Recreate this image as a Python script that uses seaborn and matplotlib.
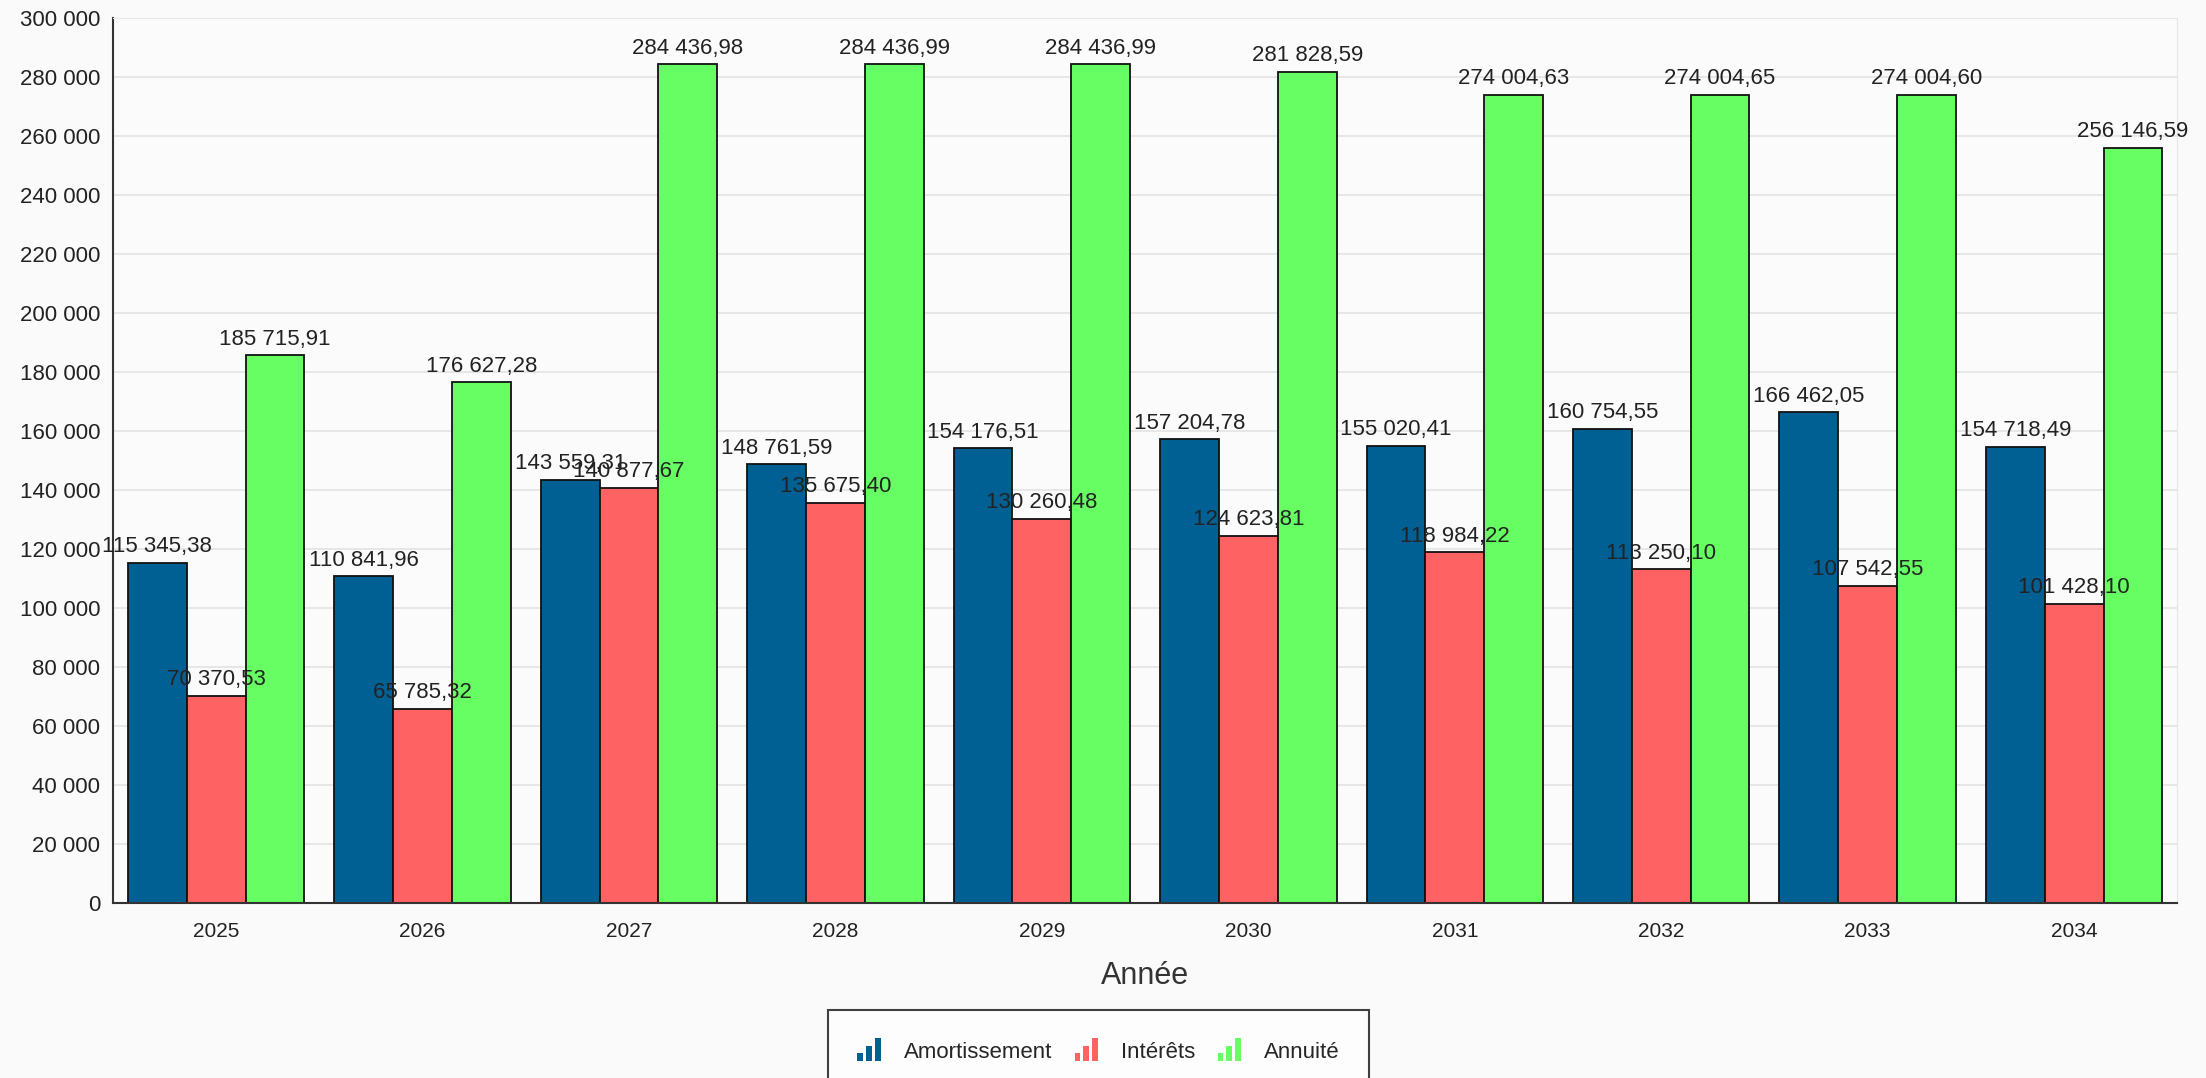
import pandas as pd
import matplotlib
matplotlib.use("Agg")
import matplotlib.pyplot as plt
import seaborn as sns
from matplotlib.patches import Patch, Rectangle
from matplotlib.legend_handler import HandlerBase
from matplotlib.ticker import FuncFormatter, MultipleLocator

years = ["2025", "2026", "2027", "2028", "2029", "2030", "2031", "2032", "2033", "2034"]
amortissement = [115345.38, 110841.96, 143559.31, 148761.59, 154176.51,
                 157204.78, 155020.41, 160754.55, 166462.05, 154718.49]
interets = [70370.53, 65785.32, 140877.67, 135675.40, 130260.48,
            124623.81, 118984.22, 113250.10, 107542.55, 101428.10]
annuite = [185715.91, 176627.28, 284436.98, 284436.99, 284436.99,
           281828.59, 274004.63, 274004.65, 274004.60, 256146.59]
series = ["Amortissement", "Intérêts", "Annuité"]
colors = ["#006094", "#fe6262", "#66fe62"]


def fr_num(v, dec=2):
    s = f"{v:,.{dec}f}"
    return s.replace(",", " ").replace(".", ",")


class BarIconHandler(HandlerBase):
    """Small three-bar icon used in the legend."""
    def create_artists(self, legend, orig_handle, xdescent, ydescent,
                       width, height, fontsize, trans):
        color = orig_handle.get_facecolor()
        w = width / 4.2
        arts = []
        for i, h in enumerate([0.35, 0.7, 1.05]):
            r = Rectangle((-xdescent + i * w * 1.5, -ydescent), w, h * height,
                          facecolor=color, edgecolor="none", transform=trans)
            arts.append(r)
        return arts


df = pd.DataFrame({
    "Année": years * 3,
    "Montant": amortissement + interets + annuite,
    "Série": [s for s in series for _ in years],
})

sns.set_style("white")
plt.rcParams["font.family"] = ["Liberation Sans", "DejaVu Sans"]

fig = plt.figure(figsize=(22.06, 10.78), dpi=100, facecolor="#fafafa")
ax = fig.add_axes([0.0512, 0.1623, 0.9358, 0.8207])
ax.set_facecolor("#fbfbfb")

sns.barplot(data=df, x="Année", y="Montant", hue="Série", palette=colors,
            width=0.855, edgecolor="#111111", linewidth=1.3, saturation=1,
            legend=False, ax=ax)

for cont in ax.containers:
    vals = [b.get_height() for b in cont]
    ax.bar_label(cont, labels=[fr_num(v) for v in vals], padding=4,
                 fontsize=16, color="#222222")

ax.set_xlim(-0.5, 9.5)
ax.set_ylim(0, 300000)
ax.yaxis.set_major_locator(MultipleLocator(20000))
ax.yaxis.set_major_formatter(FuncFormatter(lambda v, p: fr_num(v, 0)))
ax.grid(axis="y", color="#e4e4e4", linewidth=1.2)
ax.set_axisbelow(True)

for side in ["top", "right"]:
    ax.spines[side].set_color("#e6e6e6")
for side in ["left", "bottom"]:
    ax.spines[side].set_color("#333333")
    ax.spines[side].set_linewidth(1.5)

ax.tick_params(axis="y", labelsize=16, length=5, color="#333333", labelcolor="#222222", pad=4)
ax.tick_params(axis="x", labelsize=15, length=0, labelcolor="#222222", pad=14)
ax.set_xlabel("Année", fontsize=22, color="#333333", labelpad=14)
ax.set_ylabel("")

handles = [Patch(facecolor=c, label=s) for c, s in zip(colors, series)]
leg = fig.legend(handles=handles, loc="upper center", bbox_to_anchor=(0.498, 0.073),
                 ncol=3, frameon=True, fancybox=False, fontsize=16,
                 handler_map={Patch: BarIconHandler()}, handlelength=1.1,
                 handleheight=1.1, handletextpad=1.0, columnspacing=1.0,
                 borderpad=1.3, edgecolor="#111111")
leg.get_frame().set_linewidth(1.5)
leg.get_frame().set_facecolor("#ffffff")

fig.savefig("out.png", dpi=100, facecolor=fig.get_facecolor())
